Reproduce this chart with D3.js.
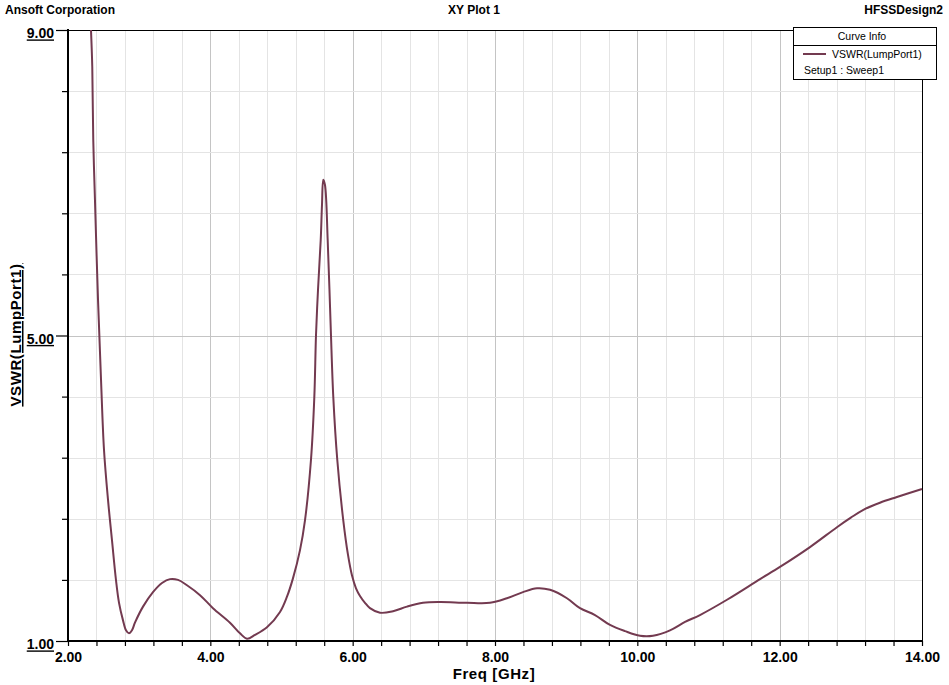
<!DOCTYPE html>
<html><head><meta charset="utf-8">
<script src="https://cdn.jsdelivr.net/npm/d3@7"></script>
<style>body{margin:0;background:#fff}svg{display:block}</style>
</head><body>
<script>
const freq = [2.323,2.341,2.355,2.379,2.422,2.464,2.506,2.562,2.618,2.674,2.717,2.773,2.815,2.857,2.899,2.941,3.054,3.194,3.321,3.433,3.546,3.672,3.855,4.037,4.276,4.417,4.515,4.628,4.796,4.979,5.077,5.161,5.260,5.330,5.414,5.461,5.485,5.513,5.551,5.569,5.587,5.611,5.649,5.674,5.695,5.728,5.784,5.868,5.934,5.990,6.047,6.103,6.173,6.243,6.384,6.567,6.763,6.988,7.227,7.606,7.929,8.168,8.393,8.590,8.773,9.011,9.194,9.405,9.616,9.826,10.037,10.220,10.459,10.670,10.880,11.260,11.724,12.004,12.426,12.805,13.000,13.170,13.409,13.648,14.000];
const vswr = [9.00,8.52,7.56,6.77,5.46,4.42,3.50,2.85,2.32,1.80,1.50,1.27,1.14,1.10,1.14,1.24,1.45,1.64,1.76,1.81,1.80,1.73,1.60,1.43,1.24,1.10,1.03,1.08,1.18,1.38,1.58,1.82,2.19,2.58,3.37,4.19,5.01,5.60,6.25,6.71,7.04,6.97,6.25,5.60,5.01,4.19,3.37,2.58,2.13,1.86,1.69,1.59,1.50,1.43,1.37,1.39,1.45,1.50,1.51,1.50,1.50,1.56,1.64,1.69,1.67,1.56,1.43,1.34,1.21,1.13,1.07,1.07,1.14,1.25,1.34,1.54,1.81,1.97,2.23,2.49,2.615,2.715,2.81,2.885,2.99];
const xTicks = d3.range(0,31).map(i => +(2 + i*0.4).toFixed(2));
const xLabels = [2,4,6,8,10,12,14];
const yTicks = d3.range(0,11).map(i => +(1 + i*0.8).toFixed(2));
const yLabels = [1,5,9];
const titleLeft = "Ansoft Corporation", titleMid = "XY Plot 1", titleRight = "HFSSDesign2";
const xTitle = "Freq [GHz]", yTitle = "VSWR(LumpPort1)";
const legendHeader = "Curve Info", legendName = "VSWR(LumpPort1)", legendSub = "Setup1 : Sweep1";

const W = 949, H = 685;
const L = 68, R = 922, T = 30, B = 641;
const svg = d3.select("body").append("svg").attr("width", W).attr("height", H);
const x = d3.scaleLinear().domain([2,14]).range([L,R]);
const y = d3.scaleLinear().domain([1,9]).range([B,T]);
const bold = "'Liberation Sans', Arial, sans-serif";
const isMajorX = v => xLabels.some(l => Math.abs(l-v) < 1e-6);
const isMajorY = v => yLabels.some(l => Math.abs(l-v) < 1e-6);

// grid
svg.append("g").selectAll("line").data(xTicks.filter(v => v>2 && v<14)).join("line")
  .attr("x1", d => Math.round(x(d))+0.5).attr("x2", d => Math.round(x(d))+0.5)
  .attr("y1", T).attr("y2", B)
  .attr("stroke", d => isMajorX(d) ? "#c4c4c4" : "#e4e4e4").attr("stroke-width", 1);
svg.append("g").selectAll("line").data(yTicks.filter(v => v>1 && v<9)).join("line")
  .attr("y1", d => Math.round(y(d))+0.5).attr("y2", d => Math.round(y(d))+0.5)
  .attr("x1", L).attr("x2", R)
  .attr("stroke", d => isMajorY(d) ? "#c4c4c4" : "#e4e4e4").attr("stroke-width", 1);

// border
svg.append("line").attr("x1", L).attr("x2", R).attr("y1", T+0.5).attr("y2", T+0.5).attr("stroke", "#000");
svg.append("line").attr("x1", R+0.5).attr("x2", R+0.5).attr("y1", T).attr("y2", B).attr("stroke", "#000");

// axes
const xAxis = d3.axisBottom(x).tickValues(xTicks).tickSize(5).tickFormat(d => isMajorX(d) ? d3.format(".2f")(d) : "");
const gx = svg.append("g").attr("transform", `translate(0,${B})`).call(xAxis);
gx.select(".domain").attr("stroke", "#000").attr("stroke-width", 2).attr("d", `M${L-1},0H${R+1}`);
gx.selectAll(".tick line").attr("stroke", "#000").attr("stroke-width", 1.2);
gx.selectAll(".tick text").attr("font-family", bold).attr("font-weight", "bold").attr("font-size", 14)
  .attr("fill", "#000").attr("dy", "0.95em").attr("y", 8);

const yAxis = d3.axisLeft(y).tickValues(yTicks).tickSize(6).tickFormat(d => isMajorY(d) ? d3.format(".2f")(d) : "");
const gy = svg.append("g").attr("transform", `translate(${L},0)`).call(yAxis);
gy.select(".domain").attr("stroke", "#000").attr("stroke-width", 2).attr("d", `M0,${T-1}V${B+1}`);
gy.selectAll(".tick line").attr("stroke", "#000").attr("stroke-width", 1.2)
  .attr("x2", d => isMajorY(d) ? -12 : -6);
gy.selectAll(".tick text").attr("font-family", bold).attr("font-weight", "bold").attr("font-size", 14)
  .attr("fill", "#000").attr("x", -14).attr("y", 3).attr("dy", "0.35em").attr("text-decoration", "underline");

// curve
const pts = freq.map((f,i) => [f, vswr[i]]);
svg.append("path").datum(pts)
  .attr("d", d3.line().x(d => x(d[0])).y(d => y(d[1])).curve(d3.curveCatmullRom.alpha(0.5)))
  .attr("fill", "none").attr("stroke", "#733a50").attr("stroke-width", 2);

// titles
svg.append("text").attr("x", 5).attr("y", 14).text(titleLeft)
  .attr("font-family", bold).attr("font-weight", "bold").attr("font-size", 12);
svg.append("text").attr("x", 474).attr("y", 14).attr("text-anchor", "middle").text(titleMid)
  .attr("font-family", bold).attr("font-weight", "bold").attr("font-size", 12);
svg.append("text").attr("x", 943).attr("y", 14).attr("text-anchor", "end").text(titleRight)
  .attr("font-family", bold).attr("font-weight", "bold").attr("font-size", 12);
svg.append("text").attr("x", 494).attr("y", 679).attr("text-anchor", "middle").text(xTitle)
  .attr("font-family", bold).attr("font-weight", "bold").attr("font-size", 15).attr("letter-spacing", 0.6);
svg.append("text").attr("transform", `translate(21,${335}) rotate(-90)`).attr("text-anchor", "middle").text(yTitle)
  .attr("font-family", bold).attr("font-weight", "bold").attr("font-size", 15).attr("letter-spacing", 0.6)
  .attr("text-decoration", "underline");

// legend
const lg = svg.append("g");
lg.append("rect").attr("x", 793.5).attr("y", 27.5).attr("width", 143).attr("height", 52)
  .attr("fill", "#fff").attr("stroke", "#000");
lg.append("line").attr("x1", 793).attr("x2", 937).attr("y1", 45.5).attr("y2", 45.5).attr("stroke", "#000");
lg.append("text").attr("x", 862).attr("y", 40).attr("text-anchor", "middle").text(legendHeader)
  .attr("font-family", bold).attr("font-size", 10.5);
lg.append("line").attr("x1", 803).attr("x2", 826).attr("y1", 54).attr("y2", 54).attr("stroke", "#733a50").attr("stroke-width", 2);
lg.append("text").attr("x", 832).attr("y", 58).text(legendName).attr("font-family", bold).attr("font-size", 10.5);
lg.append("text").attr("x", 804).attr("y", 74).text(legendSub).attr("font-family", bold).attr("font-size", 10.5);
</script>
</body></html>
